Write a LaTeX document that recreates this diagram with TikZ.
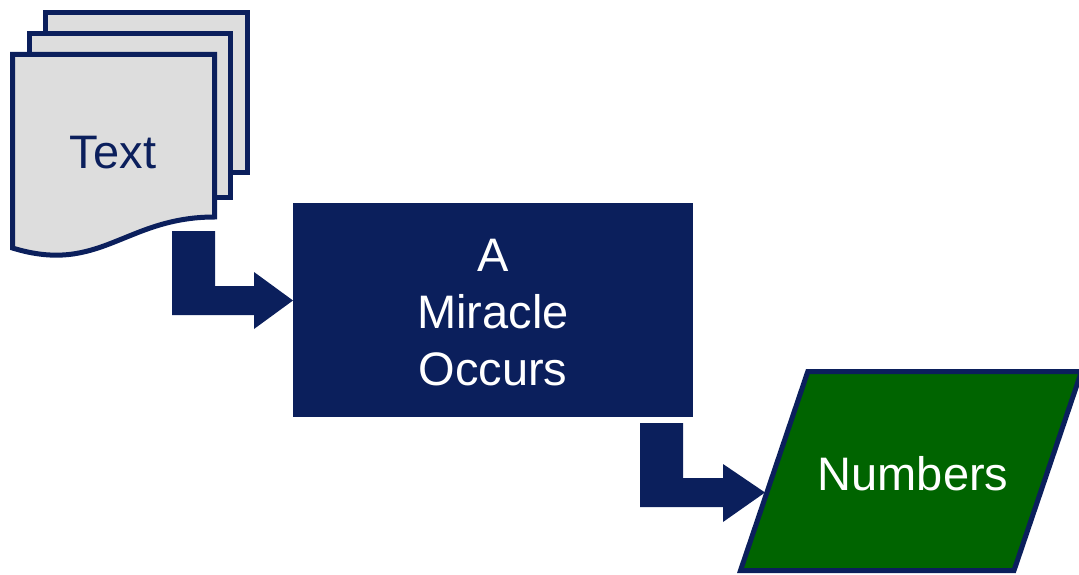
\documentclass[tikz,border=0pt]{standalone}
\usepackage{fontspec}
\setmainfont{Liberation Sans}
\definecolor{navy}{HTML}{0B1F5C}
\definecolor{sheetgray}{HTML}{DDDDDD}
\definecolor{numgreen}{HTML}{006400}
\tikzset{
  sheet/.style={draw=navy, fill=sheetgray, line width=5pt, line join=miter},
  blockarrow/.style={fill=navy, draw=none},
  bigtext/.style={font=\fontsize{47}{57}\selectfont, inner sep=0pt, align=center},
  miraclebox/.style={fill=navy, draw=none, minimum width=400pt, minimum height=214pt, inner sep=0pt},
  outbox/.style={draw=navy, fill=numgreen, line width=5pt, line join=miter}
}
\begin{document}
\begin{tikzpicture}[x=1pt,y=-1pt]
\useasboundingbox (0,0) rectangle (1079,575);
\clip (0,0) rectangle (1079,575);
% stacked documents
\draw[sheet] (45,12.5) rectangle (247.5,172.5);
\draw[sheet] (29.5,33.5) rectangle (230.5,197.5);
\draw[sheet] (12.5,54.5) -- (214.5,54.5) -- (214.5,217)
  .. controls (125,217) and (100,275) .. (12.5,248) -- cycle;
\node[bigtext, text=navy] (doctext) at (113,152.5) {Text};
% process box
\node[miraclebox] (miracle) at (493,310) {};
\node[bigtext, text=white] (miracletext) at (493,313) {A\\Miracle\\Occurs};
% output parallelogram
\draw[outbox] (807.8,371.5) -- (1081.5,371.5) -- (1014,570.5) -- (740.5,570.5) -- cycle;
\node[bigtext, text=white] (numbers) at (913,473.5) {Numbers};
% bent block arrows
\coordinate (tipA) at (293,300.5);
\coordinate (tipB) at (765,492.5);
\fill[blockarrow] (172,231) -- (215,231) -- (215,286) -- (254,286) -- (254,272)
  -- (tipA) -- (254,329) -- (254,315) -- (172,315) -- cycle;
\fill[blockarrow] (640,423) -- (683,423) -- (683,478) -- (723,478) -- (723,464)
  -- (tipB) -- (723,522) -- (723,507) -- (640,507) -- cycle;
\end{tikzpicture}
\end{document}
